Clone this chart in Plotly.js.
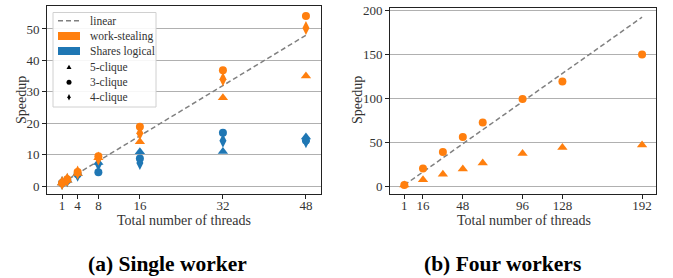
<!DOCTYPE html>
<html><head><meta charset="utf-8">
<script src="https://cdn.plot.ly/plotly-3.0.1.min.js"></script>
<style>html,body{margin:0;padding:0;background:#fff}#chart{width:673px;height:278px}</style>
</head><body><div id="chart"></div>
<script>
// ---- data: (a) single worker ----
var threadsA = [1, 2, 4, 8, 16, 32, 48];
var wsA_3 = [1, 2.2, 4.5, 9.5, 18.9, 36.9, 54.1];
var wsA_4 = [1, 2.0, 4.3, 8.8, 16.8, 34.0, 50.3];
var wsA_5 = [1, 1.9, 4.0, 9.0, 14.1, 28.1, 35.0];
var slA_3 = [1, 1.9, 3.8, 4.4, 8.8, 17.0, 14.5];
var slA_4 = [1, 1.9, 3.6, 7.0, 7.4, 14.4, 14.3];
var slA_5 = [1, 1.9, 4.0, 7.5, 10.9, 11.0, 15.6];
var ticksA = [1, 4, 8, 16, 32, 48];
// ---- data: (b) four workers ----
var threadsB = [1, 16, 32, 48, 64, 96, 128, 192];
var wsB_3 = [1, 19.8, 38.7, 55.8, 72.2, 99.0, 118.8, 149.6];
var wsB_5 = [1, 7.2, 13.3, 19.4, 26.2, 36.9, 43.7, 46.7];
var ticksB = [1, 16, 48, 96, 128, 192];

var ORANGE = '#ff7f0e', BLUE = '#1f77b4', GRAY = '#808080';
var SERIF = 'Liberation Serif, DejaVu Serif, serif';
var W = 673, H = 278;

function pts(x, y, color, sym, size, xa, ya) {
  return {x: x, y: y, type: 'scatter', mode: 'markers', xaxis: xa, yaxis: ya,
    marker: {color: color, symbol: sym, size: size, line: {width: 0}},
    showlegend: false, hoverinfo: 'skip'};
}
var SZ = {c: 8, t: 9, d: 10};
var traces = [
  {x: [threadsA[0], threadsA[threadsA.length-1]], y: [threadsA[0], threadsA[threadsA.length-1]],
   type: 'scatter', mode: 'lines', xaxis: 'x', yaxis: 'y',
   line: {color: GRAY, width: 1.5, dash: '5px,3px'}, showlegend: false},
  pts(threadsA, slA_5, BLUE, 'triangle-up', SZ.t, 'x', 'y'),
  pts(threadsA, slA_3, BLUE, 'circle', SZ.c, 'x', 'y'),
  pts(threadsA, slA_4, BLUE, 'diamond-tall', SZ.d, 'x', 'y'),
  pts(threadsA, wsA_5, ORANGE, 'triangle-up', SZ.t, 'x', 'y'),
  pts(threadsA, wsA_3, ORANGE, 'circle', SZ.c, 'x', 'y'),
  pts(threadsA, wsA_4, ORANGE, 'diamond-tall', SZ.d, 'x', 'y'),
  {x: [threadsB[0], threadsB[threadsB.length-1]], y: [threadsB[0], threadsB[threadsB.length-1]],
   type: 'scatter', mode: 'lines', xaxis: 'x2', yaxis: 'y2',
   line: {color: GRAY, width: 1.5, dash: '5px,3px'}, showlegend: false},
  pts(threadsB, wsB_5, ORANGE, 'triangle-up', SZ.t, 'x2', 'y2'),
  pts(threadsB, wsB_3, ORANGE, 'circle', SZ.c, 'x2', 'y2')
];

function ax(o) {
  var base = {showline: true, linecolor: '#222', linewidth: 1, mirror: true,
    ticks: 'outside', ticklen: 4, tickcolor: '#222', tickwidth: 1,
    tickfont: {family: SERIF, size: 13, color: '#333'}, zeroline: false,
    showgrid: false, fixedrange: true};
  for (var k in o) base[k] = o[k];
  return base;
}
var yTop = 1 - 6/H, yBot = 1 - 194/H;
var layout = {
  width: W, height: H, margin: {l: 0, r: 0, t: 0, b: 0},
  paper_bgcolor: '#fff', plot_bgcolor: 'rgba(0,0,0,0)', showlegend: false,
  xaxis: ax({domain: [47/W, 321/W], range: [-1.9, 50.9], tickvals: ticksA, anchor: 'y', ticklabelstandoff: -5}),
  yaxis: ax({domain: [yBot, yTop], range: [-2.5, 57.3], tickvals: [0,10,20,30,40,50],
    showgrid: true, gridcolor: '#b0b0b0', gridwidth: 1, anchor: 'x'}),
  xaxis2: ax({domain: [390/W, 656/W], range: [-10.5, 203.2], tickvals: ticksB, anchor: 'y2', ticklabelstandoff: -5}),
  yaxis2: ax({domain: [yBot, 1 - 8/H], range: [-9.1, 202.5], tickvals: [0,50,100,150,200],
    showgrid: true, gridcolor: '#b0b0b0', gridwidth: 1, anchor: 'x2'}),
  xaxis3: {domain: [0, 1], range: [0, W], visible: false, anchor: 'y3', fixedrange: true},
  yaxis3: {domain: [0, 1], range: [H, 0], visible: false, anchor: 'x3', fixedrange: true},
  shapes: [], annotations: []
};

// axis titles and captions
function ann(x, y, text, opt) {
  var a = {xref: 'x3', yref: 'y3', x: x, y: y, text: text, showarrow: false,
    font: {family: SERIF, size: 14, color: '#333'}, xanchor: 'center', yanchor: 'middle'};
  for (var k in opt) a[k] = opt[k];
  layout.annotations.push(a);
}
ann(184, 220, 'Total number of threads');
ann(524, 220, 'Total number of threads');
ann(21, 100, 'Speedup', {textangle: -90});
ann(357, 100, 'Speedup', {textangle: -90});
var CAP = {family: 'Liberation Serif, serif', size: 21.5, color: '#000', weight: 'bold'};
ann(167, 264, '<b>(a) Single worker</b>', {font: CAP});
ann(502, 264, '<b>(b) Four workers</b>', {font: CAP});

// legend (panel a)
var S = layout.shapes;
S.push({type: 'rect', xref: 'x3', yref: 'y3', x0: 53, x1: 156, y0: 12.5, y1: 107,
  fillcolor: 'rgba(255,255,255,0.9)', line: {color: '#d0d0d0', width: 1}, layer: 'above'});
S.push({type: 'line', xref: 'x3', yref: 'y3', x0: 58, x1: 80, y0: 20.7, y1: 20.7,
  line: {color: GRAY, width: 1.5, dash: '5px,3px'}, layer: 'above'});
S.push({type: 'rect', xref: 'x3', yref: 'y3', x0: 58, x1: 80, y0: 32, y1: 40,
  fillcolor: ORANGE, line: {width: 0}, layer: 'above'});
S.push({type: 'rect', xref: 'x3', yref: 'y3', x0: 58, x1: 80, y0: 47, y1: 55,
  fillcolor: BLUE, line: {width: 0}, layer: 'above'});
S.push({type: 'path', xref: 'x3', yref: 'y3', path: 'M 66.5 69 L 71.5 69 L 69 64.8 Z',
  fillcolor: '#000', line: {width: 0}, layer: 'above'});
S.push({type: 'circle', xref: 'x3', yref: 'y3', x0: 66.5, x1: 71.5, y0: 79.7, y1: 84.7,
  fillcolor: '#000', line: {width: 0}, layer: 'above'});
S.push({type: 'path', xref: 'x3', yref: 'y3', path: 'M 69 94 L 70.6 97.2 L 69 100.4 L 67.4 97.2 Z',
  fillcolor: '#000', line: {width: 0}, layer: 'above'});
var legTxt = ['linear', 'work-stealing', 'Shares logical', '5-clique', '3-clique', '4-clique'];
var legY = [20.7, 36, 51, 67, 82, 97];
for (var i = 0; i < legTxt.length; i++) {
  ann(88, legY[i], legTxt[i], {xanchor: 'left', font: {family: SERIF, size: 11.5, color: '#333'}});
}

Plotly.newPlot('chart', traces, layout, {staticPlot: true, displayModeBar: false});
</script></body></html>
